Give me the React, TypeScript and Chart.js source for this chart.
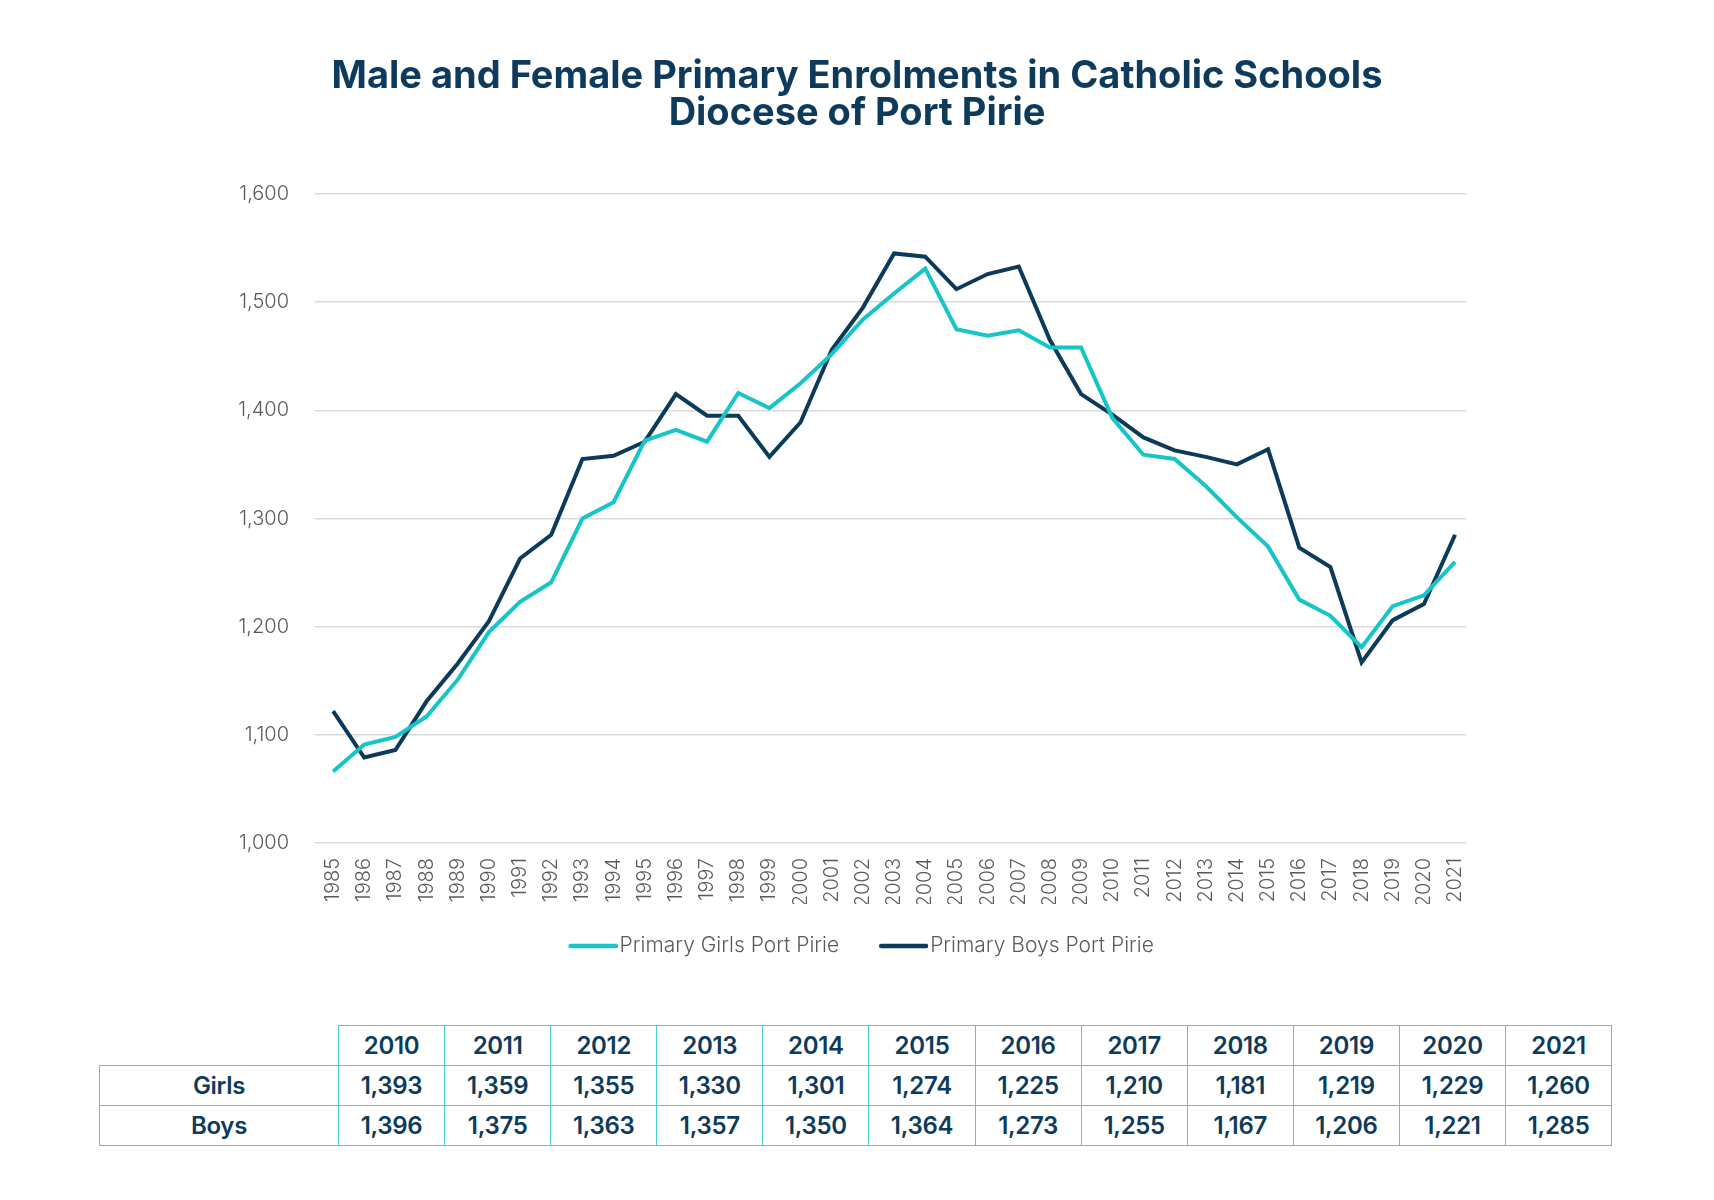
import React, { useEffect, useRef } from 'react';
import { Chart, registerables } from 'chart.js';

Chart.register(...registerables);

const years = [1985, 1986, 1987, 1988, 1989, 1990, 1991, 1992, 1993, 1994, 1995, 1996, 1997, 1998, 1999, 2000, 2001, 2002, 2003, 2004, 2005, 2006, 2007, 2008, 2009, 2010, 2011, 2012, 2013, 2014, 2015, 2016, 2017, 2018, 2019, 2020, 2021];
const girls = [1066, 1091, 1098, 1117, 1151, 1195, 1223, 1241, 1300, 1315, 1372, 1382, 1371, 1416, 1402, 1425, 1452, 1484, 1508, 1531, 1475, 1469, 1474, 1458, 1458, 1393, 1359, 1355, 1330, 1301, 1274, 1225, 1210, 1181, 1219, 1229, 1260];
const boys = [1122, 1079, 1086, 1131, 1166, 1205, 1263, 1285, 1355, 1358, 1371, 1415, 1395, 1395, 1357, 1389, 1456, 1495, 1545, 1542, 1512, 1526, 1533, 1465, 1415, 1396, 1375, 1363, 1357, 1350, 1364, 1273, 1255, 1167, 1206, 1221, 1285];
const seriesLabels = ['Primary Girls Port Pirie', 'Primary Boys Port Pirie'];
const titleLines = ['Male and Female Primary Enrolments in Catholic Schools', 'Diocese of Port Pirie'];
const tableFromYear = 2010;
const rowLabels = ['Girls', 'Boys'];

const CYAN = '#17c4c6';
const NAVY = '#0c3a5a';
const TITLE = '#0e3b5c';
const GREY = '#5a5a5a';
const FONT = 'Inter, "Noto Sans", sans-serif';

const fmt = (v: number) => v.toLocaleString('en-US');

// legend swatch: a rounded line, shifted right so it sits close to its label
function makeSwatch(color: string): HTMLCanvasElement {
  const c = document.createElement('canvas');
  c.width = 66;
  c.height = 6;
  const g = c.getContext('2d');
  if (g) {
    g.strokeStyle = color;
    g.lineWidth = 4.5;
    g.lineCap = 'round';
    g.beginPath();
    g.moveTo(19, 3);
    g.lineTo(64, 3);
    g.stroke();
  }
  return c;
}

export default function App() {
  const ref = useRef<HTMLCanvasElement | null>(null);

  useEffect(() => {
    if (!ref.current) return;
    const swatches = [makeSwatch(CYAN), makeSwatch(NAVY)];
    const chart = new Chart(ref.current, {
      type: 'line',
      data: {
        datasets: [
          {
            label: seriesLabels[0],
            data: years.map((y, i) => ({ x: y, y: girls[i] })),
            borderColor: CYAN,
            backgroundColor: CYAN,
            borderWidth: 4,
            pointRadius: 0,
            tension: 0,
          },
          {
            label: seriesLabels[1],
            data: years.map((y, i) => ({ x: y, y: boys[i] })),
            borderColor: NAVY,
            backgroundColor: NAVY,
            borderWidth: 4,
            pointRadius: 0,
            tension: 0,
          },
        ],
      },
      options: {
        responsive: false,
        animation: false,
        layout: { padding: { left: 0, right: 0, top: 0, bottom: 33.5 } },
        plugins: {
          tooltip: { enabled: false },
          title: {
            display: true,
            text: titleLines,
            color: TITLE,
            font: { family: FONT, size: 38, weight: 'bold', lineHeight: 37 / 38 },
            padding: { top: 58, bottom: 62 },
          },
          legend: {
            display: true,
            position: 'bottom',
            labels: {
              boxWidth: 49,
              boxHeight: 4,
              usePointStyle: true,
              pointStyleWidth: 49,
              padding: 31.5,
              color: GREY,
              font: { family: FONT, size: 21, weight: 300 },
              generateLabels: (c: any) =>
                c.data.datasets.map((ds: any, i: number) => ({
                  text: ds.label,
                  fillStyle: ds.borderColor,
                  strokeStyle: ds.borderColor,
                  lineWidth: 0,
                  hidden: false,
                  datasetIndex: i,
                  pointStyle: swatches[i],
                  fontColor: GREY,
                })),
            },
          },
        },
        scales: {
          x: {
            type: 'linear',
            min: 1984.42,
            max: 2021.35,
            grid: { display: false, drawTicks: false },
            border: { display: false },
            afterFit: (s: any) => {
              s.height = 61;
            },
            ticks: {
              stepSize: 1,
              autoSkip: false,
              includeBounds: false,
              minRotation: 90,
              maxRotation: 90,
              padding: 15,
              color: GREY,
              font: { family: FONT, size: 20, weight: 300 },
              callback: (v: any) => String(v),
            },
          },
          y: {
            type: 'linear',
            min: 1000,
            max: 1600,
            grid: { color: '#d9d9d9', lineWidth: 1.5, drawTicks: false },
            border: { display: false },
            afterFit: (s: any) => {
              s.width = 315;
            },
            ticks: {
              stepSize: 100,
              padding: 26,
              color: GREY,
              font: { family: FONT, size: 20, weight: 300 },
              callback: (v: any) => fmt(Number(v)),
            },
          },
          yRight: {
            type: 'linear',
            position: 'right',
            display: true,
            grid: { display: false, drawTicks: false },
            border: { display: false },
            ticks: { display: false },
            afterFit: (s: any) => {
              s.width = 248;
            },
          },
        },
      },
    } as any);
    return () => chart.destroy();
  }, []);

  const startIdx = years.indexOf(tableFromYear);
  const tYears = years.slice(startIdx);
  const tRows = [girls.slice(startIdx), boys.slice(startIdx)];

  const border = '1.5px solid #45d0d4';
  const cellBase: React.CSSProperties = {
    border,
    padding: 0,
    height: 39,
    textAlign: 'center',
    verticalAlign: 'middle',
    color: TITLE,
    fontFamily: FONT,
    fontWeight: 600,
    fontSize: 24,
    letterSpacing: '-0.3px',
  };

  return (
    <div style={{ position: 'absolute', left: 0, top: 0, width: 1714, height: 1200, background: '#fff' }}>
      <canvas ref={ref} width={1714} height={1000} style={{ position: 'absolute', left: 0, top: 0 }} />
      <table
        style={{
          position: 'absolute',
          left: 99,
          top: 1025,
          width: 1512,
          borderCollapse: 'collapse',
          tableLayout: 'fixed',
        }}
      >
        <colgroup>
          <col style={{ width: 239 }} />
          {tYears.map((y) => (
            <col key={y} style={{ width: 106.1 }} />
          ))}
        </colgroup>
        <tbody>
          <tr>
            <td style={{ ...cellBase, border: 'none' }}></td>
            {tYears.map((y) => (
              <td key={y} style={cellBase}>
                {String(y)}
              </td>
            ))}
          </tr>
          {tRows.map((row, r) => (
            <tr key={r}>
              <td style={cellBase}>{rowLabels[r]}</td>
              {row.map((v, i) => (
                <td key={i} style={cellBase}>
                  {fmt(v)}
                </td>
              ))}
            </tr>
          ))}
        </tbody>
      </table>
    </div>
  );
}
